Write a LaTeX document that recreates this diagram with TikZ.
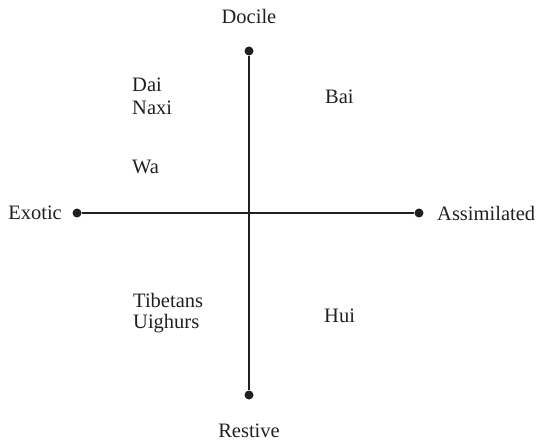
\documentclass[tikz,border=0pt]{standalone}
\usepackage{fontspec}
\setmainfont{Liberation Serif}
\definecolor{ink}{HTML}{231F20}
\begin{document}
\begin{tikzpicture}[x=1pt,y=-1pt,
  axis/.style={draw=ink,line width=2pt},
  endpt/.style={circle,fill=ink,inner sep=0pt,minimum size=9pt},
  lbl/.style={text=ink,font=\fontsize{20.5}{24}\selectfont,inner sep=0pt},
  grp/.style={lbl,anchor=west}]
\useasboundingbox (0,0) rectangle (537,443);
\node[endpt] (top) at (249,51) {};
\node[endpt] (bot) at (249,395) {};
\node[endpt] (lft) at (77,213) {};
\node[endpt] (rgt) at (419,213) {};
\draw[axis] (top) -- (bot);
\draw[axis] (lft) -- (rgt);
\node[lbl] (docile) at (249,16) {Docile};
\node[lbl] (restive) at (249,431) {Restive};
\node[lbl,anchor=east] (exotic) at (62,213) {Exotic};
\node[lbl,anchor=west] (assim) at (437,213) {Assimilated};
\node[grp] (dai) at (132,85) {Dai};
\node[grp] (naxi) at (132,108) {Naxi};
\node[grp] (bai) at (325,97) {Bai};
\node[grp] (wa) at (132,167) {Wa};
\node[grp] (tib) at (133,300) {Tibetans};
\node[grp] (uig) at (133,324) {Uighurs};
\node[grp] (hui) at (324,316) {Hui};
\end{tikzpicture}
\end{document}
